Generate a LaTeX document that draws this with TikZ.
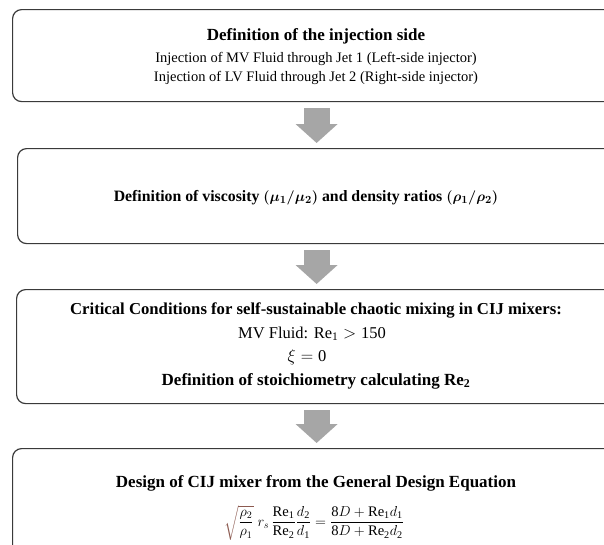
\documentclass[tikz,border=0pt]{standalone}
\usepackage{amsmath,bm}
\usepackage{fontspec}
\setmainfont{Liberation Serif}
\usetikzlibrary{arrows.meta,calc}
\definecolor{boxline}{HTML}{3A3A3A}
\definecolor{arrowgray}{HTML}{A6A6A6}
\definecolor{radcol}{HTML}{8C5A50}
\begin{document}
\begin{tikzpicture}[x=1pt,y=-1pt,
  flowbox/.style={draw=boxline, line width=1.2pt, rounded corners=9pt, inner sep=0pt, anchor=north west, fill=white},
  blockarrow/.style={draw=arrowgray, line width=26pt, -{Triangle[width=41pt,length=19pt]}, shorten <=6pt, shorten >=5pt},
  titletext/.style={anchor=base, inner sep=0pt, font=\bfseries\fontsize{17}{20}\selectfont},
  plaintext/.style={anchor=base, inner sep=0pt, font=\fontsize{14.5}{17}\selectfont},
  midtext/.style={anchor=base, inner sep=0pt, font=\fontsize{16.5}{19}\selectfont}]
\useasboundingbox (0,0) rectangle (604,544);
\fill[white] (0,0) rectangle (604,544);
\clip (0,0) rectangle (604,544);

% boxes
\node[flowbox, minimum width=608pt, minimum height=92pt]  (b1) at (12,9) {};
\node[flowbox, minimum width=598pt, minimum height=95pt]  (b2) at (17,148) {};
\node[flowbox, minimum width=600pt, minimum height=114pt] (b3) at (16,289) {};
\node[flowbox, minimum width=608pt, minimum height=130pt] (b4) at (12,448) {};

% arrows
\draw[blockarrow] (b1.south) -- (b1.south |- b2.north);
\draw[blockarrow] (b2.south) -- (b2.south |- b3.north);
\draw[blockarrow] (b3.south) -- (b3.south |- b4.north);

% box 1 text
\node[titletext] (t1) at (316,40) {Definition of the injection side};
\node[plaintext] (t1a) at (316,62) {Injection of MV Fluid through Jet 1 (Left-side injector)};
\node[plaintext] (t1b) at (316,81) {Injection of LV Fluid through Jet 2 (Right-side injector)};

% box 2 text
\node[titletext, font=\bfseries\fontsize{15.8}{18}\selectfont] (t2) at (306,201) {Definition of viscosity $\bm{(\mu_1/\mu_2)}$ and density ratios $\bm{(\rho_1/\rho_2)}$};

% box 3 text
\node[titletext, font=\bfseries\fontsize{16.7}{20}\selectfont] (t3) at (316,314) {Critical Conditions for self-sustainable chaotic mixing in CIJ mixers:};
\node[midtext] (t3a) at (312,338) {MV Fluid: $\mathrm{Re}_{\text{1}} > \text{150}$};
\node[midtext] (t3b) at (307,361) {$\xi = \text{0}$};
\node[titletext] (t3c) at (316,385) {Definition of stoichiometry calculating $\mathbf{Re}_{\text{\bfseries 2}}$};

% box 4 text
\node[titletext] (t4) at (316,487) {Design of CIJ mixer from the General Design Equation};
\node[anchor=base, inner sep=0pt, font=\fontsize{14.6}{17}\selectfont] (t4a) at (314,526)
  {$\displaystyle {\color{radcol}\sqrt{\color{black}\frac{\rho_2}{\rho_1}}}\; r_s\,\frac{\mathrm{Re}_{\text{1}}}{\mathrm{Re}_{\text{2}}}\frac{d_{\text{2}}}{d_{\text{1}}} = \frac{\text{8}D+\mathrm{Re}_{\text{1}} d_{\text{1}}}{\text{8}D+\mathrm{Re}_{\text{2}} d_{\text{2}}}$};
\end{tikzpicture}
\end{document}
